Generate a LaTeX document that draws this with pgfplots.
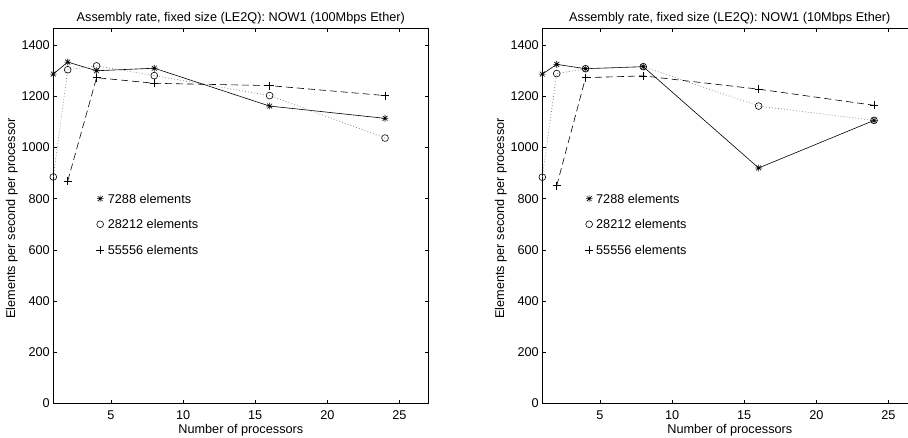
\documentclass[border=0pt]{standalone}
\usepackage{fontspec}
\setmainfont{Liberation Sans}
\usepackage{pgfplots}
\pgfplotsset{compat=1.18}

\pgfdeclareplotmark{mstar}{%
 \pgfpathmoveto{\pgfqpoint{-\pgfplotmarksize}{0pt}}\pgfpathlineto{\pgfqpoint{\pgfplotmarksize}{0pt}}%
 \pgfpathmoveto{\pgfqpoint{0pt}{-\pgfplotmarksize}}\pgfpathlineto{\pgfqpoint{0pt}{\pgfplotmarksize}}%
 \pgfpathmoveto{\pgfqpoint{-0.707\pgfplotmarksize}{-0.707\pgfplotmarksize}}\pgfpathlineto{\pgfqpoint{0.707\pgfplotmarksize}{0.707\pgfplotmarksize}}%
 \pgfpathmoveto{\pgfqpoint{-0.707\pgfplotmarksize}{0.707\pgfplotmarksize}}\pgfpathlineto{\pgfqpoint{0.707\pgfplotmarksize}{-0.707\pgfplotmarksize}}%
 \pgfusepathqstroke}

\newcommand{\tf}{\fontsize{12.7}{14}\selectfont}

\pgfplotsset{
  every axis title/.style={at={(axis description cs:0.5,1)}, anchor=base, yshift=7pt, font=\tf},
  every axis x label/.style={at={(axis description cs:0.5,-0.08)}, anchor=base, font=\tf},
  every axis y label/.style={at={(axis description cs:-0.1021,0.493)}, rotate=90, anchor=base, font=\tf},
  myax/.style={
    scale only axis, width=375pt, height=375pt,
    xmin=1, xmax=27, ymin=0, ymax=1466,
    xtick={5,10,15,20,25}, ytick={0,200,...,1400},
    axis line style={line width=0.8pt},
    major tick length=3.5pt,
    tick style={black, line width=0.6pt},
    tick label style={font=\tf},
    xticklabel style={anchor=base, yshift=-15.7pt},
    /pgf/number format/assume math mode=true,
    /pgf/number format/1000 sep={},
    clip=false,
  },
  s1/.style={black, line width=0.6pt, mark=mstar, mark size=3.4pt, mark options={solid, line width=0.6pt}},
  s2/.style={black!50, line width=0.7pt, dash pattern=on 0.8pt off 2.2pt, mark=o, mark size=3.4pt, mark options={solid, black, line width=0.6pt}},
  s3/.style={black, line width=0.6pt, dash pattern=on 7pt off 4pt, mark=+, mark size=4pt, mark options={solid, line width=0.6pt}},
}

\begin{document}
\begin{tikzpicture}[x=1pt,y=1pt]
\useasboundingbox (0,0) rectangle (908,437);
\clip (0,0) rectangle (908,437);

\begin{axis}[myax, at={(53.3pt,33.7pt)}, anchor=south west,
  title={Assembly rate, fixed size (LE2Q): NOW1 (100Mbps Ether)},
  xlabel={Number of processors},
  ylabel={Elements per second per processor}]
\addplot[s1] coordinates {(1,1287) (2,1334) (4,1300) (8,1310) (16,1162) (24,1114)};
\addplot[s2] coordinates {(1,885) (2,1304) (4,1319) (8,1281) (16,1203) (24,1037)};
\addplot[s3] coordinates {(2,869) (4,1273) (8,1251) (16,1242) (24,1203)};
\addplot[s1, only marks] coordinates {(4.25,800)};
\addplot[s2, only marks] coordinates {(4.25,700)};
\addplot[s3, only marks] coordinates {(4.25,600)};
\node[anchor=west, inner sep=0pt, font=\tf] at (axis cs:4.77,800) {7288 elements};
\node[anchor=west, inner sep=0pt, font=\tf] at (axis cs:4.77,700) {28212 elements};
\node[anchor=west, inner sep=0pt, font=\tf] at (axis cs:4.77,600) {55556 elements};
\end{axis}

\begin{axis}[myax, at={(542.3pt,33.7pt)}, anchor=south west,
  title={Assembly rate, fixed size (LE2Q): NOW1 (10Mbps Ether)},
  xlabel={Number of processors},
  ylabel={Elements per second per processor}]
\addplot[s1] coordinates {(1,1287) (2,1325) (4,1308) (8,1316) (16,920) (24,1106)};
\addplot[s2] coordinates {(1,884) (2,1289) (4,1308) (8,1316) (16,1162) (24,1106)};
\addplot[s3] coordinates {(2,851) (4,1273) (8,1280) (16,1228) (24,1165)};
\addplot[s1, only marks] coordinates {(4.25,800)};
\addplot[s2, only marks] coordinates {(4.25,700)};
\addplot[s3, only marks] coordinates {(4.25,600)};
\node[anchor=west, inner sep=0pt, font=\tf] at (axis cs:4.72,800) {7288 elements};
\node[anchor=west, inner sep=0pt, font=\tf] at (axis cs:4.72,700) {28212 elements};
\node[anchor=west, inner sep=0pt, font=\tf] at (axis cs:4.72,600) {55556 elements};
\end{axis}
\end{tikzpicture}
\end{document}
